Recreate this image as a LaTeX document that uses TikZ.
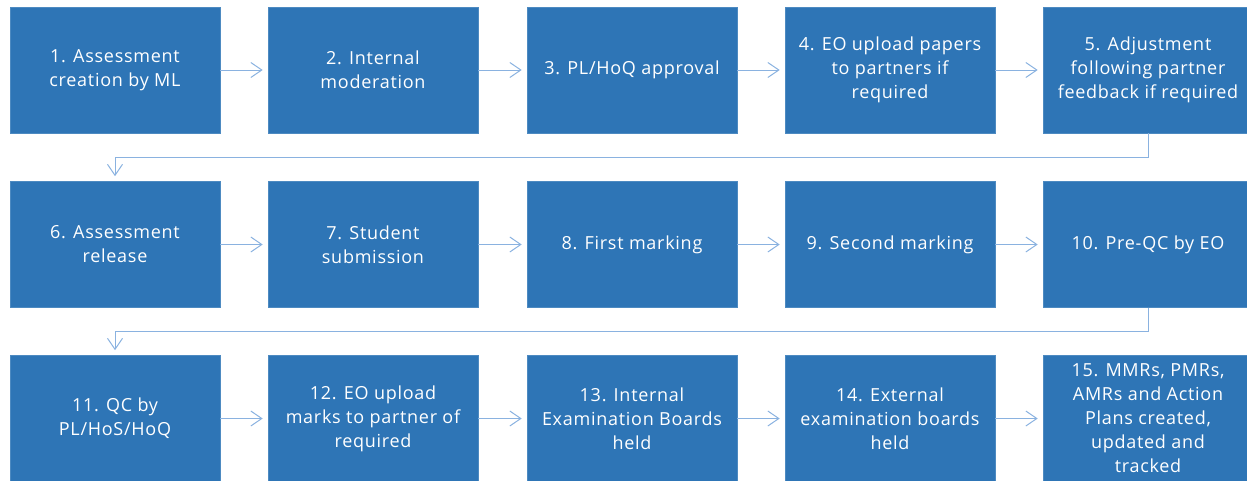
\documentclass[tikz,border=0pt]{standalone}
\usepackage{fontspec}
\setmainfont{Open Sans}[LetterSpace=4]
\usetikzlibrary{arrows.meta}
\definecolor{boxblue}{HTML}{2E75B6}
\definecolor{linkblue}{HTML}{8AB2E0}
\begin{document}
\begin{tikzpicture}[x=1pt,y=-1pt,
  stepbox/.style={fill=boxblue,draw=boxblue!85!white,line width=0.6pt,minimum width=210pt,minimum height=126pt,
    text=white,align=center,font=\fontsize{18}{24}\selectfont,inner sep=0pt},
  link/.style={draw=linkblue,line width=1pt,-{Straight Barb[length=11pt,width=15pt,line width=1pt]},shorten >=5pt}]
\useasboundingbox (0,0) rectangle (1247,480);
\begin{scope}
\clip (0,0) rectangle (1247,480);
\node[stepbox] (s1) at (115,70) {1. Assessment\\creation by ML};
\node[stepbox] (s2) at (373,70) {2. Internal\\moderation};
\node[stepbox] (s3) at (632,70) {3. PL/HoQ approval};
\node[stepbox] (s4) at (890,70) {4. EO upload papers\\to partners if\\required};
\node[stepbox] (s5) at (1148,70) {5. Adjustment\\following partner\\feedback if required};
\node[stepbox] (s6) at (115,244.5) {6. Assessment\\release};
\node[stepbox] (s7) at (373,244.5) {7. Student\\submission};
\node[stepbox] (s8) at (632,244.5) {8. First marking};
\node[stepbox] (s9) at (890,244.5) {9. Second marking};
\node[stepbox] (s10) at (1148,244.5) {10. Pre-QC by EO};
\node[stepbox] (s11) at (115,418.5) {11. QC by\\PL/HoS/HoQ};
\node[stepbox] (s12) at (373,418.5) {12. EO upload\\marks to partner of\\required};
\node[stepbox] (s13) at (632,418.5) {13. Internal\\Examination Boards\\held};
\node[stepbox] (s14) at (890,418.5) {14. External\\examination boards\\held};
\node[stepbox] (s15) at (1148,418.5) {15. MMRs, PMRs,\\AMRs and Action\\Plans created,\\updated and\\tracked};
\end{scope}
\draw[link] (s1.east) -- (s2.west);
\draw[link] (s2.east) -- (s3.west);
\draw[link] (s3.east) -- (s4.west);
\draw[link] (s4.east) -- (s5.west);
\draw[link] (s6.east) -- (s7.west);
\draw[link] (s7.east) -- (s8.west);
\draw[link] (s8.east) -- (s9.west);
\draw[link] (s9.east) -- (s10.west);
\draw[link] (s11.east) -- (s12.west);
\draw[link] (s12.east) -- (s13.west);
\draw[link] (s13.east) -- (s14.west);
\draw[link] (s14.east) -- (s15.west);
\coordinate (c1) at (1148,157.5);
\coordinate (c2) at (115,157.5);
\draw[link] (s5.south) -- (c1) -- (c2) -- (s6.north);
\coordinate (c3) at (1148,331.5);
\coordinate (c4) at (115,331.5);
\draw[link] (s10.south) -- (c3) -- (c4) -- (s11.north);
\end{tikzpicture}
\end{document}
